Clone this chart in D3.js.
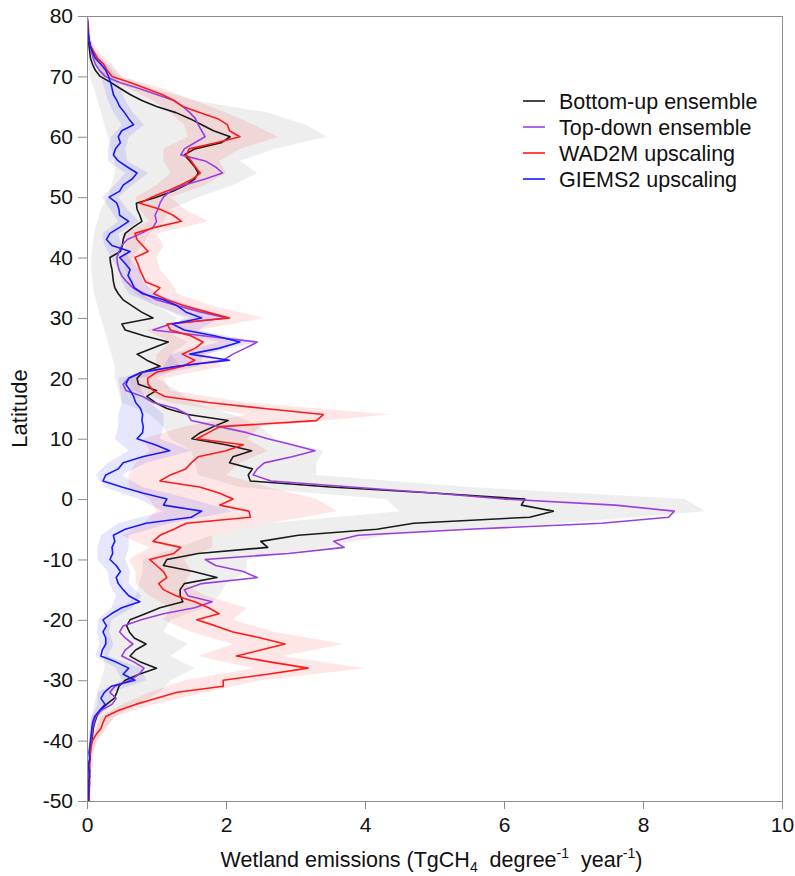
<!DOCTYPE html>
<html>
<head>
<meta charset="utf-8">
<script src="https://cdn.jsdelivr.net/npm/d3@7"></script>
<style>
  body { margin: 0; background: #fff; }
  svg { display: block; font-family: "Liberation Sans", Arial, sans-serif; }
</style>
</head>
<body>
<svg id="chart" width="795" height="876"></svg>
<script>
// latitude grid for the lines (1 degree, north to south)
const lats = d3.range(80, -51, -1);
// latitude grid for the uncertainty bands (2 degrees)
const bandLats = d3.range(80, -51, -2);

// Bottom-up ensemble (mean)
const bottomUp = [
  0.0, 0.0, 0.01, 0.01, 0.02, 0.03, 0.04, 0.05, 0.08, 0.12,
  0.19, 0.34, 0.48, 0.62, 0.79, 1.0, 1.28, 1.48, 1.65, 1.82,
  2.06, 1.93, 1.55, 1.40, 1.48, 1.55, 1.60, 1.55, 1.42, 1.24,
  1.0, 0.71, 0.72, 0.76, 0.79, 0.66, 0.55, 0.52, 0.51, 0.48,
  0.33, 0.34, 0.36, 0.37, 0.38, 0.40, 0.45, 0.52, 0.65, 0.78,
  0.95, 0.50, 0.55, 0.83, 1.17, 0.95, 0.72, 0.86, 1.05, 0.80,
  0.72, 0.74, 1.0, 0.86, 0.98, 1.15, 1.45, 2.03, 1.82, 1.63,
  1.51, 2.0, 2.37, 2.1, 2.05, 2.38, 2.32, 2.35, 3.5, 4.98,
  6.3, 6.25, 6.71, 6.37, 4.7, 4.17, 3.04, 2.5, 2.6, 1.6,
  1.15, 1.1, 1.53, 1.87, 1.4, 1.34, 1.34, 1.38, 1.05, 0.84,
  0.62, 0.57, 0.61, 0.68, 0.85, 0.70, 0.62, 0.77, 1.0, 0.75,
  0.55, 0.46, 0.43, 0.39, 0.28, 0.19, 0.14, 0.11, 0.09, 0.08,
  0.07, 0.05, 0.04, 0.04, 0.03, 0.04, 0.03, 0.03, 0.02, 0.02, 0.01
];

// Top-down ensemble (mean)
const topDown = [
  0.0, 0.0, 0.01, 0.02, 0.03, 0.05, 0.07, 0.09, 0.12, 0.18,
  0.26, 0.47, 0.75, 1.0, 1.25, 1.38, 1.48, 1.56, 1.6, 1.65,
  1.7, 1.55, 1.4, 1.35, 1.7, 1.85, 1.95, 1.7, 1.4, 1.2,
  1.1, 1.05, 1.02, 0.98, 1.0, 0.95, 0.78, 0.58, 0.5, 0.46,
  0.43, 0.44, 0.46, 0.5, 0.57, 0.66, 0.83, 1.0, 1.3, 1.63,
  2.01, 1.2, 0.95, 1.7, 2.45, 2.28, 2.1, 1.96, 1.3, 0.8,
  0.6, 0.52, 0.56, 0.8, 0.95, 1.28, 1.45, 1.5, 1.9, 2.3,
  2.6, 2.95, 3.28, 2.95, 2.55, 2.45, 2.39, 2.65, 3.8, 4.98,
  6.0, 7.6, 8.45, 8.37, 7.4, 5.5, 3.9, 3.55, 3.7, 2.9,
  1.7, 1.85, 2.25, 2.45, 1.65, 1.4, 1.45, 1.8, 1.55, 1.1,
  0.78, 0.52, 0.47, 0.55, 0.66, 0.55, 0.5, 0.68, 0.82, 0.75,
  0.62, 0.4, 0.33, 0.42, 0.36, 0.2, 0.13, 0.1, 0.08, 0.07,
  0.06, 0.05, 0.04, 0.04, 0.03, 0.03, 0.03, 0.02, 0.02, 0.02, 0.02
];

// WAD2M upscaling
const wad2m = [
  0.0, 0.01, 0.02, 0.02, 0.03, 0.05, 0.1, 0.15, 0.24, 0.29,
  0.36, 0.62, 0.85, 1.08, 1.25, 1.38, 1.62, 1.88, 2.02, 2.05,
  2.2, 1.86, 1.47, 1.43, 1.5, 1.56, 1.63, 1.52, 1.35, 1.15,
  0.93, 0.76, 1.05, 1.24, 1.36, 0.98, 0.69, 0.72, 0.8, 0.88,
  0.69, 0.73, 0.76, 0.8, 0.84, 1.05, 0.96, 1.15, 1.4, 1.72,
  2.05, 1.15, 1.2, 1.5, 1.67, 1.56, 1.37, 1.55, 1.38, 1.0,
  0.87, 0.88, 0.95, 1.12, 1.75, 2.55, 3.4, 3.3, 1.91, 1.75,
  1.58, 2.25, 2.0, 1.6, 1.5, 1.42, 1.2, 1.05, 1.62, 1.9,
  2.1, 1.91, 2.33, 2.35, 1.43, 1.25, 1.05, 0.95, 1.35, 1.25,
  0.9, 1.0, 1.1, 1.15, 1.03, 1.1, 1.28, 1.55, 1.75, 1.9,
  1.58, 1.85, 2.1, 2.5, 2.85, 2.5, 2.15, 2.65, 3.18, 2.6,
  1.96, 1.96, 1.3, 1.0, 0.7, 0.45, 0.27, 0.23, 0.2, 0.13,
  0.08, 0.06, 0.05, 0.04, 0.04, 0.03, 0.03, 0.04, 0.03, 0.03, 0.03
];

// GIEMS2 upscaling
const giems2 = [
  0.0, 0.01, 0.01, 0.02, 0.03, 0.05, 0.08, 0.12, 0.2, 0.27,
  0.31, 0.34, 0.36, 0.38, 0.43, 0.47, 0.54, 0.6, 0.67, 0.5,
  0.45, 0.48, 0.41, 0.38, 0.45, 0.58, 0.72, 0.65, 0.52, 0.47,
  0.32, 0.43, 0.46, 0.47, 0.6, 0.47, 0.33, 0.28, 0.36, 0.62,
  0.47, 0.55, 0.62, 0.59, 0.64, 0.68, 0.8, 1.1, 1.3, 1.42,
  1.65, 1.23, 1.4, 1.85, 2.2, 1.91, 1.48, 2.05, 1.3, 0.78,
  0.6, 0.56, 0.62, 0.67, 0.7, 0.77, 0.8, 0.79, 0.81, 0.8,
  0.72, 0.98, 1.19, 0.8, 0.52, 0.45, 0.27, 0.23, 0.5, 0.8,
  1.15, 1.1, 1.65, 1.5, 0.85, 0.55, 0.38, 0.4, 0.36, 0.37,
  0.33, 0.42, 0.48, 0.42, 0.45, 0.52, 0.6, 0.76, 0.5, 0.35,
  0.23, 0.28, 0.23, 0.27, 0.27, 0.22, 0.2, 0.42, 0.6, 0.52,
  0.69, 0.35, 0.25, 0.2, 0.26, 0.18, 0.11, 0.08, 0.07, 0.06,
  0.05, 0.04, 0.03, 0.04, 0.02, 0.03, 0.04, 0.02, 0.03, 0.02, 0.02
];

// bottom-up min / max range
const bottomUpLow = [
  0, 0, 0.01, 0.02, 0.03, 0.04, 0.1, 0.15, 0.2, 0.25,
  0.3, 0.35, 0.4, 0.4, 0.35, 0.3, 0.2, 0.15, 0.1, 0.08,
  0.06, 0.06, 0.08, 0.1, 0.15, 0.2, 0.25, 0.3, 0.35, 0.4,
  0.4, 0.45, 0.5, 0.9, 1.1, 1.2, 1.5, 1.55, 1.6, 2.2,
  4.3, 4.5, 2.6, 1.8, 1.3, 0.8, 0.8, 0.75, 0.7, 0.5,
  0.3, 0.25, 0.25, 0.25, 0.25, 0.2, 0.15, 0.1, 0.06, 0.04,
  0.03, 0.02, 0.01, 0.01, 0.01, 0.0
];
const bottomUpHigh = [
  0.01, 0.03, 0.05, 0.12, 0.3, 0.5, 0.95, 1.55, 2.6, 3.15,
  3.45, 2.7, 2.2, 2.45, 2.1, 1.6, 1.2, 1.1, 0.9, 0.8,
  0.65, 0.6, 0.65, 0.8, 1.0, 1.3, 1.1, 1.45, 1.2, 1.35,
  1.0, 1.3, 1.5, 2.1, 2.5, 2.7, 3.4, 3.3, 3.3, 5.5,
  8.6, 8.9, 6.8, 4.3, 3.4, 2.3, 2.3, 2.0, 1.9, 1.7,
  1.2, 1.1, 1.45, 1.2, 1.55, 1.2, 1.05, 0.7, 0.4, 0.25,
  0.15, 0.1, 0.08, 0.06, 0.05, 0.04
];

// WAD2M uncertainty range
const wad2mLow = [
  0, 0.01, 0.02, 0.05, 0.15, 0.25, 0.6, 0.95, 1.2, 1.4,
  1.45, 1.1, 1.1, 1.2, 1.0, 0.7, 0.75, 0.9, 0.5, 0.55,
  0.5, 0.55, 0.6, 0.7, 1.0, 1.5, 0.85, 1.2, 1.0, 1.0,
  0.6, 0.65, 1.2, 2.3, 1.4, 0.8, 0.9, 0.7, 0.6, 0.6,
  0.9, 1.0, 0.8, 0.5, 0.9, 0.6, 0.7, 0.7, 0.9, 1.2,
  1.1, 1.5, 2.1, 1.6, 2.4, 1.4, 0.9, 0.5, 0.2, 0.13,
  0.06, 0.03, 0.02, 0.02, 0.02, 0.02
];
const wad2mHigh = [
  0.02, 0.04, 0.06, 0.18, 0.35, 0.5, 1.1, 1.55, 2.0, 2.4,
  2.75, 2.2, 1.9, 2.0, 1.7, 1.2, 1.4, 1.75, 1.0, 1.1,
  1.0, 1.05, 1.2, 1.3, 1.8, 2.55, 1.6, 2.1, 1.75, 1.95,
  1.1, 1.2, 2.3, 4.35, 2.5, 2.3, 2.6, 2.2, 2.0, 2.6,
  3.3, 3.6, 2.6, 1.8, 1.8, 1.4, 1.5, 1.4, 1.7, 2.3,
  2.1, 2.7, 3.7, 2.8, 4.0, 2.5, 1.7, 0.95, 0.4, 0.28,
  0.14, 0.08, 0.06, 0.05, 0.05, 0.04
];

// GIEMS2 uncertainty range
const giems2Low = [
  0, 0, 0.01, 0.04, 0.12, 0.2, 0.25, 0.3, 0.38, 0.5,
  0.35, 0.3, 0.3, 0.55, 0.4, 0.22, 0.33, 0.45, 0.22, 0.25,
  0.35, 0.45, 0.5, 0.6, 1.0, 1.4, 1.1, 1.9, 1.2, 1.1,
  0.45, 0.48, 0.5, 0.45, 0.45, 0.4, 0.6, 0.3, 0.12, 0.25,
  0.75, 1.1, 0.45, 0.2, 0.15, 0.15, 0.3, 0.32, 0.42, 0.35,
  0.15, 0.15, 0.18, 0.12, 0.42, 0.5, 0.15, 0.15, 0.07, 0.04,
  0.03, 0.02, 0.02, 0.02, 0.01, 0.01
];
const giems2High = [
  0.02, 0.03, 0.05, 0.12, 0.28, 0.42, 0.48, 0.55, 0.66, 0.82,
  0.6, 0.55, 0.58, 0.88, 0.65, 0.45, 0.58, 0.75, 0.45, 0.5,
  0.6, 0.75, 0.8, 1.0, 1.5, 1.9, 1.6, 2.45, 1.7, 1.6,
  0.75, 0.78, 0.9, 1.1, 1.1, 1.05, 1.5, 0.85, 0.5, 0.8,
  1.5, 2.1, 1.2, 0.6, 0.6, 0.55, 0.62, 0.6, 0.78, 0.65,
  0.35, 0.32, 0.38, 0.3, 0.78, 0.85, 0.35, 0.35, 0.16, 0.1,
  0.07, 0.06, 0.05, 0.05, 0.05, 0.05
];

const xTicks = [0, 2, 4, 6, 8, 10];
const yTicks = [-50, -40, -30, -20, -10, 0, 10, 20, 30, 40, 50, 60, 70, 80];

const seriesNames = ["Bottom-up ensemble", "Top-down ensemble", "WAD2M upscaling", "GIEMS2 upscaling"];
const seriesColors = ["#1a1a1a", "#9a3ee0", "#ff1a1a", "#1a1aff"];
const seriesValues = [bottomUp, topDown, wad2m, giems2];

const bands = [
  { low: bottomUpLow, high: bottomUpHigh, fill: "#cfcfcf", opacity: 0.35 },
  { low: wad2mLow, high: wad2mHigh, fill: "#ff3030", opacity: 0.12 },
  { low: giems2Low, high: giems2High, fill: "#3030ff", opacity: 0.12 }
];

// layout
const W = 795, H = 876;
const margin = { top: 16, right: 13, bottom: 75, left: 87 };
const innerW = W - margin.left - margin.right;
const innerH = H - margin.top - margin.bottom;
const axisColor = "#8c8c8c";

const svg = d3.select("#chart");
const g = svg.append("g").attr("transform", `translate(${margin.left},${margin.top})`);

const x = d3.scaleLinear().domain([0, 10]).range([0, innerW]);
const y = d3.scaleLinear().domain([-50, 80]).range([innerH, 0]);

g.append("clipPath").attr("id", "plot-clip")
  .append("rect").attr("width", innerW).attr("height", innerH);

const plot = g.append("g").attr("clip-path", "url(#plot-clip)");

// bands
bands.forEach(b => {
  const area = d3.area()
    .y((d, i) => y(bandLats[i]))
    .x0((d, i) => x(b.low[i]))
    .x1((d, i) => x(b.high[i]));
  plot.append("path")
    .datum(bandLats)
    .attr("d", area)
    .attr("fill", b.fill)
    .attr("fill-opacity", b.opacity)
    .attr("stroke", "none");
});

// lines
seriesValues.forEach((vals, k) => {
  const line = d3.line()
    .y((d, i) => y(lats[i]))
    .x((d, i) => x(vals[i]));
  plot.append("path")
    .datum(lats)
    .attr("d", line)
    .attr("fill", "none")
    .attr("stroke", seriesColors[k])
    .attr("stroke-width", 1.6)
    .attr("stroke-linejoin", "round");
});

// axes (plain hyphen for negatives, as in the original)
const fmt = d => String(d);
const xAxis = g.append("g")
  .attr("transform", `translate(0,${innerH})`)
  .call(d3.axisBottom(x).tickValues(xTicks).tickSize(8).tickPadding(8).tickFormat(fmt));
const yAxis = g.append("g")
  .call(d3.axisLeft(y).tickValues(yTicks).tickSize(9).tickPadding(5).tickFormat(fmt));

[xAxis, yAxis].forEach(a => {
  a.select(".domain").remove();
  a.selectAll(".tick line").attr("stroke", axisColor);
  a.selectAll(".tick text")
    .attr("fill", "#111")
    .style("font-size", "21px")
    .style("font-family", "'Liberation Sans', Arial, sans-serif");
});

// frame
g.append("rect")
  .attr("width", innerW).attr("height", innerH)
  .attr("fill", "none").attr("stroke", axisColor).attr("stroke-width", 1)
  .attr("shape-rendering", "crispEdges");

// axis titles
svg.append("text")
  .attr("transform", `translate(27,${margin.top + innerH / 2}) rotate(-90)`)
  .attr("text-anchor", "middle")
  .style("font-size", "22px")
  .attr("fill", "#111")
  .text("Latitude");

const xt = svg.append("text")
  .attr("x", margin.left + innerW / 2 - 3)
  .attr("y", 867)
  .attr("text-anchor", "middle")
  .style("font-size", "21.5px")
  .attr("fill", "#111");
xt.append("tspan").text("Wetland emissions (TgCH");
xt.append("tspan").attr("dy", 5).style("font-size", "14px").text("4");
xt.append("tspan").attr("dy", -5).text("\u00a0 degree");
xt.append("tspan").attr("dy", -9).style("font-size", "14px").text("-1");
xt.append("tspan").attr("dy", 9).text("\u00a0 year");
xt.append("tspan").attr("dy", -9).style("font-size", "14px").text("-1");
xt.append("tspan").attr("dy", 9).text(")");

// legend
const legend = svg.append("g").attr("transform", "translate(523,101)");
seriesNames.forEach((name, i) => {
  const row = legend.append("g").attr("transform", `translate(0,${i * 26})`);
  row.append("line")
    .attr("x1", 0).attr("x2", 22)
    .attr("stroke", seriesColors[i]).attr("stroke-width", 1.6);
  row.append("text")
    .attr("x", 36).attr("y", 7.5)
    .style("font-size", "21.5px")
    .attr("fill", "#111")
    .text(name);
});
</script>
</body>
</html>
